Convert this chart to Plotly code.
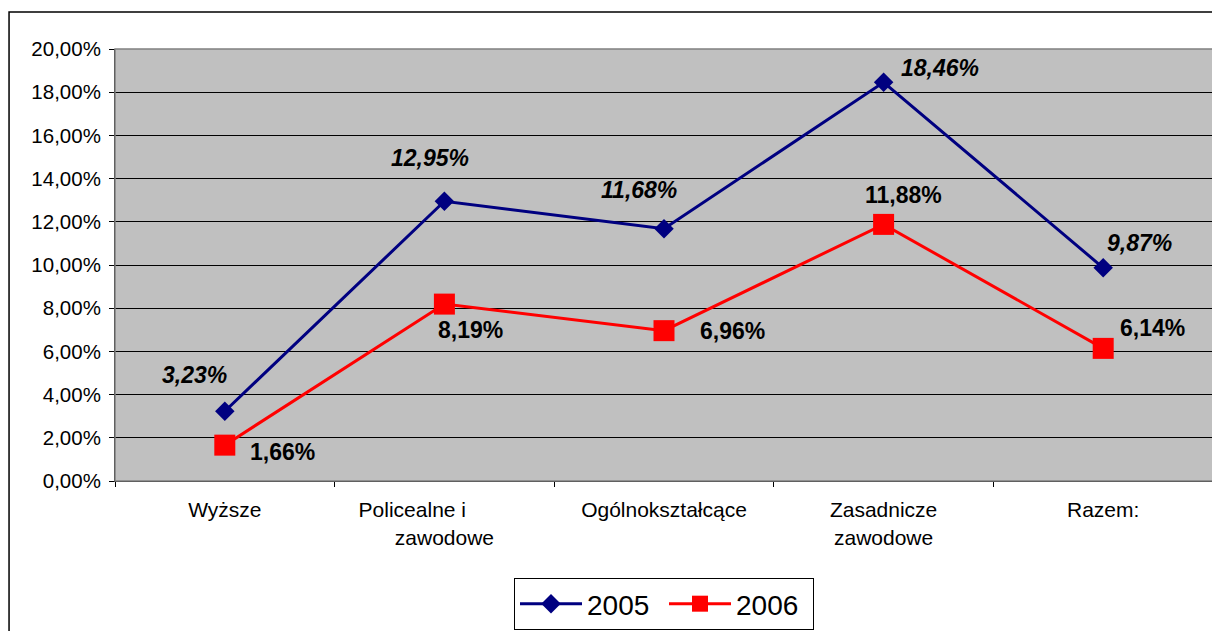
import plotly.graph_objects as go

categories = ["Wyższe", "Policealne i średnie zawodowe", "Ogólnokształcące", "Zasadnicze zawodowe", "Razem:"]
tick_labels = ["Wyższe", "Policealne i" + "\u00a0" * 11 + "<br>zawodowe", "Ogólnokształcące", "Zasadnicze<br>zawodowe", "Razem:"]
values_2005 = [3.23, 12.95, 11.68, 18.46, 9.87]
values_2006 = [1.66, 8.19, 6.96, 11.88, 6.14]
y_tick_vals = [0, 2, 4, 6, 8, 10, 12, 14, 16, 18, 20]
y_tick_text = ["0,00%", "2,00%", "4,00%", "6,00%", "8,00%", "10,00%", "12,00%", "14,00%", "16,00%", "18,00%", "20,00%"]

# label offsets (px) relative to the points
off_2005 = [(-30, 36), (-14, 43), (-25, 39), (56, 14), (36, 25)]
off_2006 = [(58, -7), (26, -26), (68, 0), (20, 29), (49, 20)]

FONT = "Liberation Sans, Arial, sans-serif"

def fmt(v):
    return f"{v:.2f}".replace(".", ",") + "%"

fig = go.Figure()
fig.add_trace(go.Scatter(
    x=categories, y=values_2005, name="2005", mode="lines+markers",
    line=dict(color="#000080", width=3),
    marker=dict(symbol="diamond", size=15, color="#000080"),
))
fig.add_trace(go.Scatter(
    x=categories, y=values_2006, name="2006", mode="lines+markers",
    line=dict(color="#FF0000", width=3),
    marker=dict(symbol="square", size=21, color="#FF0000"),
))

annotations = []
for c, v, (dx, dy) in zip(categories, values_2005, off_2005):
    annotations.append(dict(x=c, y=v, xref="x", yref="y", text="<b><i>" + fmt(v) + "</i></b>",
                            showarrow=False, xshift=dx, yshift=dy,
                            font=dict(family=FONT, size=23, color="black")))
for c, v, (dx, dy) in zip(categories, values_2006, off_2006):
    annotations.append(dict(x=c, y=v, xref="x", yref="y", text="<b>" + fmt(v) + "</b>",
                            showarrow=False, xshift=dx, yshift=dy,
                            font=dict(family=FONT, size=23, color="black")))

shapes = [
    # outer chart frame (extends past right/bottom edges)
    dict(type="rect", xref="paper", yref="paper", x0=-0.0965, x1=1.2, y0=-0.6, y1=1.0856,
         line=dict(color="black", width=1.5), fillcolor="rgba(0,0,0,0)", layer="below"),
    # plot area border
    dict(type="rect", xref="paper", yref="paper", x0=0, x1=1, y0=0, y1=1,
         line=dict(color="#808080", width=1.5), fillcolor="rgba(0,0,0,0)"),
]

fig.update_layout(
    width=1212, height=623,
    margin=dict(l=107, r=7, t=41, b=150, autoexpand=False),
    paper_bgcolor="white",
    plot_bgcolor="#C0C0C0",
    font=dict(family=FONT, size=20, color="black"),
    showlegend=True,
    legend=dict(orientation="h", x=0.5, xanchor="center", y=-0.2245, yanchor="top",
                bgcolor="white", bordercolor="black", borderwidth=1,
                font=dict(family=FONT, size=28, color="black"),
                itemwidth=62, entrywidth=72, entrywidthmode="pixels",
                traceorder="normal"),
    annotations=annotations,
    shapes=shapes,
)
fig.update_xaxes(
    type="category", range=[-0.5, 4.5],
    tickvals=categories, ticktext=tick_labels,
    showline=True, linecolor="black", linewidth=1,
    ticks="outside", tickson="boundaries", ticklen=5, tickcolor="black",
    showgrid=False, ticklabelstandoff=10, automargin=False,
    tickfont=dict(family=FONT, size=21, color="black"),
)
fig.update_yaxes(
    range=[0, 20], tickvals=y_tick_vals, ticktext=y_tick_text,
    showline=True, linecolor="black", linewidth=1,
    ticks="outside", ticklen=5, tickcolor="black",
    showgrid=True, gridcolor="black", gridwidth=1, zeroline=False,
    ticklabelstandoff=4, automargin=False,
    tickfont=dict(family=FONT, size=20.5, color="black"),
)

fig.write_html("out.html")
